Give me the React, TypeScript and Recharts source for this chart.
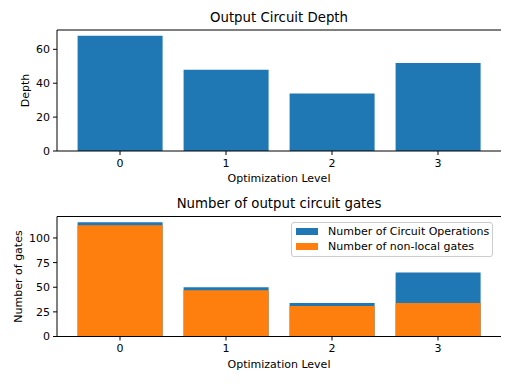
import { BarChart, Bar, XAxis, YAxis, Legend, Label } from 'recharts'

const levels = ['0', '1', '2', '3']
const depth = [68, 48, 34, 52]
const circuitOps = [116, 50, 34, 65]
const nonLocalGates = [113, 47, 31, 34]
const depthTicks = [0, 20, 40, 60]
const gateTicks = [0, 25, 50, 75, 100]

const BLUE = '#1f77b4'
const ORANGE = '#ff7f0e'
const FONT = '"DejaVu Sans", sans-serif'

const depthData = levels.map((level, i) => ({ level, depth: depth[i] }))
const gateData = levels.map((level, i) => ({
  level,
  ops: circuitOps[i],
  nonLocal: nonLocalGates[i],
}))

const pad = { left: 10, right: 10 }
const tickStyle = { fill: '#000', fontSize: 11, fontFamily: FONT }
const line = { stroke: '#000', strokeWidth: 1 }

const titleLabel = (text: string) => (props: any) => {
  const vb = props.viewBox
  return (
    <text x={vb.x + vb.width / 2} y={vb.y + vb.height - 8.5} textAnchor="middle" fontSize={13.3} fontFamily={FONT} fill="#000">
      {text}
    </text>
  )
}

const xLabel = (props: any) => {
  const vb = props.viewBox
  return (
    <text x={vb.x + vb.width / 2} y={vb.y + 31} textAnchor="middle" fontSize={11} fontFamily={FONT} fill="#000">
      Optimization Level
    </text>
  )
}

const yLabel = (text: string, bx: number) => (props: any) => {
  const vb = props.viewBox
  const cy = vb.y + vb.height / 2
  return (
    <text x={bx} y={cy} transform={`rotate(-90, ${bx}, ${cy})`} textAnchor="middle" fontSize={11} fontFamily={FONT} fill="#000">
      {text}
    </text>
  )
}

const GateLegend = (props: any) => (
  <div
    style={{
      width: 200,
      height: 32,
      border: '1px solid #cccccc',
      borderRadius: 3,
      background: 'rgba(255,255,255,0.8)',
      fontFamily: FONT,
      fontSize: 11,
      paddingTop: 1,
    }}
  >
    {(props.payload || []).map((item: any) => (
      <div key={item.value} style={{ display: 'flex', alignItems: 'center', height: 15 }}>
        <span style={{ display: 'inline-block', width: 22, height: 7, marginLeft: 4, marginRight: 10, background: item.color }} />
        <span style={{ color: '#000' }}>{item.value}</span>
      </div>
    ))}
  </div>
)

export default function App() {
  return (
    <div style={{ position: 'absolute', left: 0, top: 0, width: 512, height: 384, background: '#fff' }}>
      <div style={{ position: 'absolute', left: 0, top: 0 }}>
        <BarChart width={512} height={192} data={depthData} margin={{ top: 29, right: 11, bottom: 0, left: 0 }} barCategoryGap="10%">
          <XAxis dataKey="level" height={41} padding={pad} tick={tickStyle} tickSize={4} tickMargin={4} tickLine={line} axisLine={line}>
            <Label content={xLabel} />
          </XAxis>
          <XAxis xAxisId="frame" orientation="top" dataKey="level" height={1} padding={pad} tick={false} tickLine={false} axisLine={line}>
            <Label content={titleLabel('Output Circuit Depth')} />
          </XAxis>
          <YAxis width={57} domain={[0, (max: number) => max * 1.05]} ticks={depthTicks} tick={tickStyle} tickSize={4} tickMargin={3} tickLine={line} axisLine={line}>
            <Label content={yLabel('Depth', 29)} />
          </YAxis>
          <YAxis yAxisId="frame" orientation="right" width={0} tick={false} tickLine={false} axisLine={line} />
          <Bar dataKey="depth" fill={BLUE} isAnimationActive={false} />
        </BarChart>
      </div>
      <div style={{ position: 'absolute', left: 0, top: 192 }}>
        <BarChart width={512} height={192} data={gateData} margin={{ top: 23.5, right: 11, bottom: 0, left: 0 }} barCategoryGap="10%">
          <XAxis dataKey="level" height={47.5} padding={pad} tick={tickStyle} tickSize={4} tickMargin={4} tickLine={line} axisLine={line}>
            <Label content={xLabel} />
          </XAxis>
          <XAxis xAxisId="over" dataKey="level" padding={pad} hide />
          <XAxis xAxisId="frame" orientation="top" dataKey="level" height={1} padding={pad} tick={false} tickLine={false} axisLine={line}>
            <Label content={titleLabel('Number of output circuit gates')} />
          </XAxis>
          <YAxis width={57} domain={[0, (max: number) => max * 1.05]} ticks={gateTicks} tick={tickStyle} tickSize={4} tickMargin={3} tickLine={line} axisLine={line}>
            <Label content={yLabel('Number of gates', 21.5)} />
          </YAxis>
          <YAxis yAxisId="frame" orientation="right" width={0} tick={false} tickLine={false} axisLine={line} />
          <Bar dataKey="ops" name="Number of Circuit Operations" fill={BLUE} isAnimationActive={false} />
          <Bar dataKey="nonLocal" xAxisId="over" name="Number of non-local gates" fill={ORANGE} isAnimationActive={false} />
          <Legend
            layout="horizontal"
            verticalAlign="middle"
            align="center"
            content={GateLegend}
            wrapperStyle={{ position: 'absolute', left: 291, top: 30, width: 'auto' }}
          />
        </BarChart>
      </div>
    </div>
  )
}
